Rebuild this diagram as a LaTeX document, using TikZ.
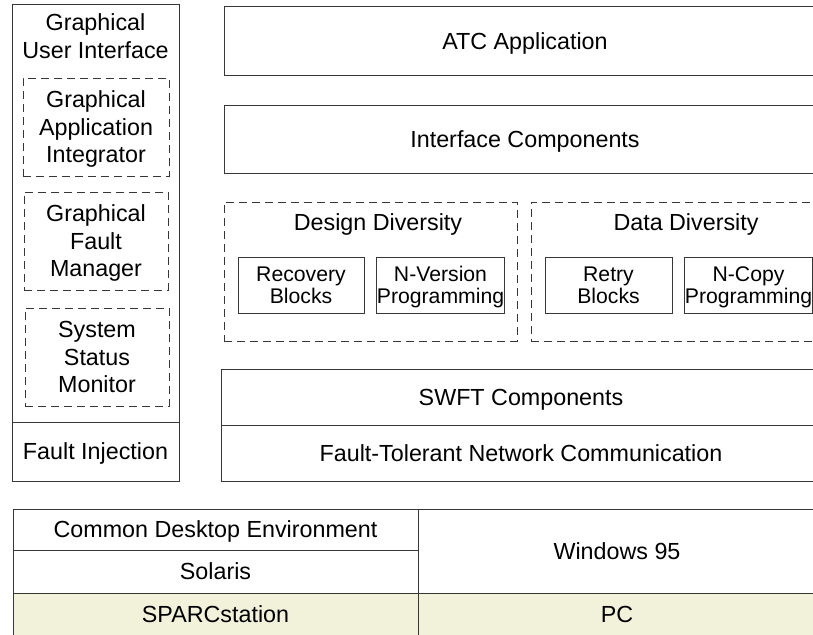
\documentclass[tikz,border=0pt]{standalone}
\usepackage{fontspec}
\setmainfont{Liberation Sans}
\definecolor{linec}{RGB}{55,55,55}
\definecolor{cream}{RGB}{242,242,218}
\begin{document}
\begin{tikzpicture}[x=1pt,y=-1pt,
  every node/.style={font=\fontsize{23.3}{27.5}\selectfont, inner sep=0pt, outer sep=0pt, align=center, text depth=0pt},
  solidbox/.style={draw=linec, line width=1pt},
  dashbox/.style={draw=linec, line width=1pt, dash pattern=on 8pt off 5pt},
  smalltext/.style={font=\fontsize{21.2}{22.5}\selectfont},
  creamcell/.style={solidbox, fill=cream},
]
\useasboundingbox (0,0) rectangle (813,634);
\clip (0,0) rectangle (813,634);

% left column
\node[solidbox, minimum width=167pt, minimum height=417pt] (gui) at (95.5,213.5) {};
\node (guititle) at (95.5,36) {Graphical\\User Interface};
\node[solidbox, minimum width=167pt, minimum height=59pt] (fi) at (95.5,451.5) {Fault Injection};
\node[dashbox, minimum width=146pt, minimum height=98pt] (gai) at (96,127) {Graphical\\Application\\Integrator};
\node[dashbox, minimum width=144pt, minimum height=98pt] (gfm) at (96,241) {Graphical\\Fault\\Manager};
\node[dashbox, minimum width=144pt, minimum height=98pt] (ssm) at (97,357) {System\\Status\\Monitor};

% right stack
\node[solidbox, minimum width=602pt, minimum height=68pt] (atc) at (525,41) {ATC Application};
\node[solidbox, minimum width=602pt, minimum height=68pt] (ic) at (525,139) {Interface Components};

\node[dashbox, minimum width=293pt, minimum height=139pt] (dd) at (370.5,271.5) {};
\node (ddtitle) at (378,222.5) {Design Diversity};
\node[solidbox, smalltext, minimum width=126pt, minimum height=56pt] (rb) at (301,285) {Recovery\\Blocks};
\node[solidbox, smalltext, minimum width=125pt, minimum height=56pt] (nv) at (440.5,285) {N-Version\\Programming};

\node[dashbox, minimum width=304pt, minimum height=139pt] (data) at (683,271.5) {};
\node (datatitle) at (686,222.5) {Data Diversity};
\node[solidbox, smalltext, minimum width=127pt, minimum height=56pt] (retry) at (608.5,285) {Retry\\Blocks};
\node[solidbox, smalltext, minimum width=127pt, minimum height=56pt] (ncopy) at (748.5,285) {N-Copy\\Programming};

\node[solidbox, minimum width=600pt, minimum height=56pt] (swft) at (521,397) {SWFT Components};
\node[solidbox, minimum width=600pt, minimum height=56pt] (ftnc) at (521,453) {Fault-Tolerant Network Communication};

% platform table
\node[solidbox, minimum width=405pt, minimum height=41pt] (cde) at (215.5,529.5) {Common Desktop Environment};
\node[solidbox, minimum width=405pt, minimum height=43pt] (sol) at (215.5,571.5) {Solaris};
\node[creamcell, minimum width=405pt, minimum height=43pt] (sparc) at (215.5,614.5) {SPARCstation};
\node[solidbox, minimum width=398pt, minimum height=84pt] (win) at (617,551) {Windows 95};
\node[creamcell, minimum width=398pt, minimum height=43pt] (pc) at (617,614.5) {PC};
\end{tikzpicture}
\end{document}
